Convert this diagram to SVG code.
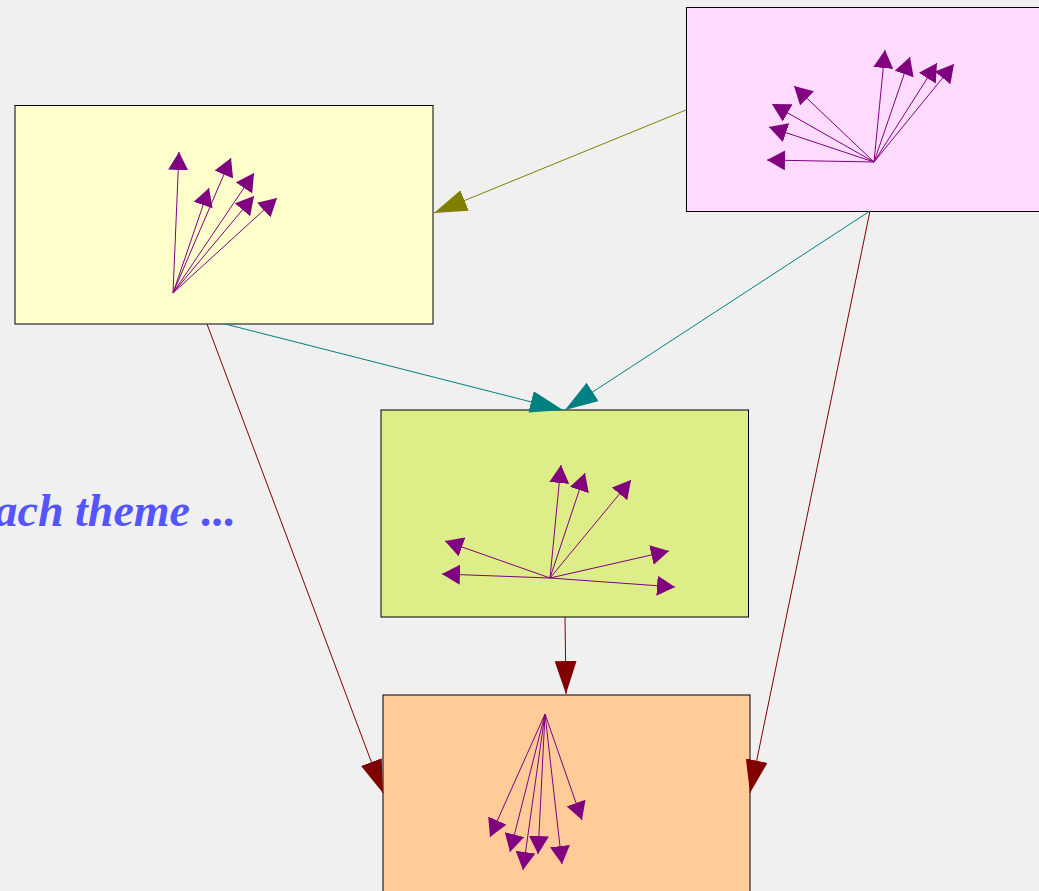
<svg xmlns="http://www.w3.org/2000/svg" width="1039" height="891" viewBox="0 0 1039 891">
  <style>
    .box { stroke: #000; stroke-width: 1; }
    .edge { fill: none; stroke-width: 1; }
    .ray { fill: none; stroke: #800080; stroke-width: 1; marker-end: url(#headPurple); }
    .label { font-family: "Liberation Serif", serif; font-style: italic; font-weight: bold; font-size: 46px; fill: #5555ff; }
  </style>
  <defs>
    <marker id="headPurple" markerUnits="userSpaceOnUse" markerWidth="18" markerHeight="20" refX="18" refY="10" orient="auto">
      <path d="M0,0 L18,10 L0,20 z" fill="#800080"/>
    </marker>
    <marker id="headOlive" markerUnits="userSpaceOnUse" markerWidth="33" markerHeight="22" refX="33" refY="11" orient="auto">
      <path d="M0,0 L33,11 L0,22 z" fill="#808000"/>
    </marker>
    <marker id="headTeal" markerUnits="userSpaceOnUse" markerWidth="33" markerHeight="22" refX="33" refY="11" orient="auto">
      <path d="M0,0 L33,11 L0,22 z" fill="#008080"/>
    </marker>
    <marker id="headRed" markerUnits="userSpaceOnUse" markerWidth="33" markerHeight="22" refX="33" refY="11" orient="auto">
      <path d="M0,0 L33,11 L0,22 z" fill="#800000"/>
    </marker>
  </defs>

  <rect x="0" y="0" width="1039" height="891" fill="#f0f0f0"/>

  <text class="label" x="236" y="526" text-anchor="end">ach theme ...</text>

  <!-- top-right node -->
  <g id="node-pink">
    <rect class="box" x="686.5" y="7.5" width="400" height="204" fill="#ffdcff"/>
    <line class="ray" x1="874" y1="162" x2="767" y2="160"/>
    <line class="ray" x1="874" y1="162" x2="769" y2="127"/>
    <line class="ray" x1="874" y1="162" x2="772" y2="104"/>
    <line class="ray" x1="874" y1="162" x2="794" y2="86"/>
    <line class="ray" x1="874" y1="162" x2="885" y2="50"/>
    <line class="ray" x1="874" y1="162" x2="910" y2="57"/>
    <line class="ray" x1="874" y1="162" x2="937" y2="63"/>
    <line class="ray" x1="874" y1="162" x2="954" y2="64"/>
  </g>

  <!-- left node -->
  <g id="node-yellow">
    <rect class="box" x="15" y="105.5" width="418" height="218.5" fill="#ffffcc"/>
    <line class="ray" x1="173" y1="293" x2="179" y2="152"/>
    <line class="ray" x1="173" y1="293" x2="209" y2="188"/>
    <line class="ray" x1="173" y1="293" x2="231" y2="158"/>
    <line class="ray" x1="173" y1="293" x2="254" y2="173"/>
    <line class="ray" x1="173" y1="293" x2="254" y2="196"/>
    <line class="ray" x1="173" y1="293" x2="277" y2="198"/>
  </g>

  <!-- middle node -->
  <g id="node-green">
    <rect class="box" x="381" y="410" width="367.5" height="207" fill="#ddee88"/>
    <line class="ray" x1="550" y1="578" x2="561" y2="465"/>
    <line class="ray" x1="550" y1="578" x2="585" y2="473"/>
    <line class="ray" x1="550" y1="578" x2="631" y2="480"/>
    <line class="ray" x1="550" y1="578" x2="445" y2="541"/>
    <line class="ray" x1="550" y1="578" x2="442" y2="574"/>
    <line class="ray" x1="550" y1="578" x2="669" y2="551"/>
    <line class="ray" x1="550" y1="578" x2="675" y2="587"/>
  </g>

  <!-- bottom node -->
  <g id="node-orange">
    <rect class="box" x="383" y="695" width="367" height="220" fill="#ffcc99"/>
    <line class="ray" x1="545" y1="714" x2="490" y2="837"/>
    <line class="ray" x1="545" y1="714" x2="510" y2="852"/>
    <line class="ray" x1="545" y1="714" x2="523" y2="870"/>
    <line class="ray" x1="545" y1="714" x2="538" y2="854"/>
    <line class="ray" x1="545" y1="714" x2="562" y2="864"/>
    <line class="ray" x1="545" y1="714" x2="582" y2="820"/>
  </g>

  <!-- connectors between nodes -->
  <g id="connectors">
    <line class="edge" x1="686" y1="110" x2="434" y2="213" stroke="#808000" marker-end="url(#headOlive)"/>
    <line class="edge" x1="225" y1="324" x2="563" y2="410" stroke="#008080" marker-end="url(#headTeal)"/>
    <line class="edge" x1="870" y1="211" x2="565" y2="410" stroke="#008080" marker-end="url(#headTeal)"/>
    <line class="edge" x1="207" y1="324" x2="383" y2="793" stroke="#800000" marker-end="url(#headRed)"/>
    <line class="edge" x1="870" y1="211" x2="750" y2="793" stroke="#800000" marker-end="url(#headRed)"/>
    <line class="edge" x1="565" y1="617" x2="566" y2="694" stroke="#800000" marker-end="url(#headRed)"/>
  </g>
</svg>
